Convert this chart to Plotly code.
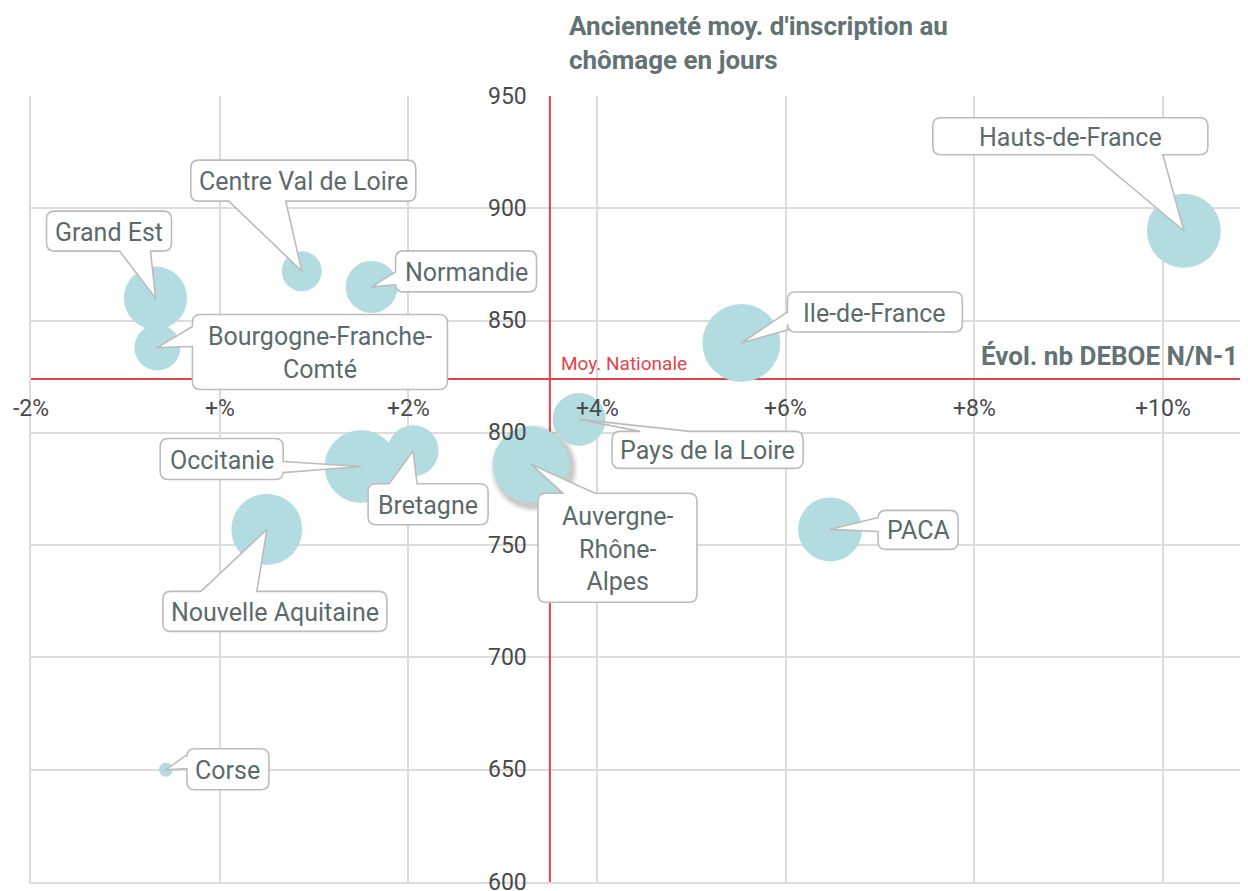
import plotly.graph_objects as go

# ---------------- data ----------------
regions = ["Hauts-de-France", "Ile-de-France", "Normandie", "Centre Val de Loire",
           "Grand Est", "Bourgogne-Franche-Comté", "Pays de la Loire", "Occitanie",
           "Bretagne", "Auvergne-Rhône-Alpes", "Nouvelle Aquitaine", "PACA", "Corse"]
label_text = ["Hauts-de-France", "Ile-de-France", "Normandie", "Centre Val de Loire",
              "Grand Est", "Bourgogne-Franche-<br>Comté", "Pays de la Loire", "Occitanie",
              "Bretagne", "Auvergne-<br>Rhône-<br>Alpes", "Nouvelle Aquitaine", "PACA", "Corse"]
evol_deboe = [10.22, 5.53, 1.61, 0.87, -0.68, -0.66, 3.81, 1.50, 2.05, 3.30, 0.50, 6.47, -0.57]
anciennete = [890, 840, 865, 872, 860, 838, 806, 785, 792, 786, 757, 757, 650]
bubble_size = [74, 78, 52, 40, 63, 46, 53, 73, 51, 76, 71, 64, 14]

nat_evol = 3.5     # moyenne nationale (axe vertical)
nat_anc = 824      # moyenne nationale (axe horizontal)

x_ticks = [-2, 0, 2, 4, 6, 8, 10]
x_tick_labels = ["-2%", "+%", "+2%", "+4%", "+6%", "+8%", "+10%"]
y_ticks = [600, 650, 700, 750, 800, 850, 900, 950]
y_tick_labels = ["600", "650", "700", "750", "800", "850", "900", "950"]

y_title = "Ancienneté moy. d'inscription au<br>chômage en jours"
x_title = "Évol. nb DEBOE N/N-1"
nat_label = "Moy. Nationale"

# ---------------- styles / layout of callouts (pixels, relative to bubble centre, screen coords) ----------------
# (left, right, top, bottom, pointer edge, pointer base a, pointer base b)
callouts = {
    "Hauts-de-France": (-251, 24, -113, -76, "bottom", -91, -21),
    "Ile-de-France": (46, 221, -51, -11, "left", -31, -13),
    "Normandie": (24, 165, -36, 5, "left", -15, -2),
    "Centre Val de Loire": (-111, 114, -111, -70, "bottom", -73, -16),
    "Grand Est": (-109, 16, -87, -47, "bottom", -36, -5),
    "Bourgogne-Franche-Comté": (35, 290, -33, 42, "left", -21, -1),
    "Pays de la Loire": (33, 224, 12, 49, "top", 61, 111),
    "Occitanie": (-201, -78, -28, 13, "right", -5, 6),
    "Bretagne": (-45, 75, 33, 74, "top", -24, 4),
    "Auvergne-Rhône-Alpes": (7, 166, 29, 138, "top", 32, 64),
    "Nouvelle Aquitaine": (-104, 120, 62, 102, "top", -66, -10),
    "PACA": (48, 128, -19, 20, "left", -12, 2),
    "Corse": (21, 103, -21, 20, "left", -15, -1),
}

BUBBLE = "#b2dcdf"
RED = "#e2434b"
GRID = "#dcdcdc"
TXT = "#5b6b6b"
TICK = "#4a4a4a"
BORDER = "#bcbcbc"
FONT = "Roboto"


def callout_path(L, R, T, B, edge, a, b, r=8):
    pts = []

    def P(cmd, *xy):
        coords = []
        for i in range(0, len(xy), 2):
            coords.append(f"{xy[i]:.1f},{-xy[i + 1]:.1f}")
        pts.append(cmd + " ".join(coords))

    P("M", L + r, T)
    if edge == "top":
        P("L", a, T); P("L", 0, 0); P("L", b, T)
    P("L", R - r, T)
    P("Q", R, T, R, T + r)
    if edge == "right":
        P("L", R, a); P("L", 0, 0); P("L", R, b)
    P("L", R, B - r)
    P("Q", R, B, R - r, B)
    if edge == "bottom":
        P("L", b, B); P("L", 0, 0); P("L", a, B)
    P("L", L + r, B)
    P("Q", L, B, L, B - r)
    if edge == "left":
        P("L", L, b); P("L", 0, 0); P("L", L, a)
    P("L", L, T + r)
    P("Q", L, T, L + r, T)
    return " ".join(pts) + " Z"


fig = go.Figure()

fig.add_trace(go.Scatter(
    x=evol_deboe, y=anciennete, mode="markers",
    marker=dict(size=bubble_size, sizemode="diameter", sizeref=1,
                color=BUBBLE, opacity=1, line=dict(width=0)),
    hovertext=regions, hoverinfo="text", showlegend=False,
))

shapes = []
annotations = []

# national average lines
shapes.append(dict(type="line", xref="x", yref="y", x0=x_ticks[0], x1=11.5, y0=nat_anc, y1=nat_anc,
                   line=dict(color=RED, width=2), layer="between"))
shapes.append(dict(type="line", xref="x", yref="y", x0=nat_evol, x1=nat_evol, y0=y_ticks[0], y1=y_ticks[-1],
                   line=dict(color=RED, width=2), layer="between"))

# soft shadow under the highlighted bubble (Auvergne-Rhône-Alpes)
i_ara = regions.index("Auvergne-Rhône-Alpes")
rad = bubble_size[i_ara] / 2
for k, alpha in [(6, 0.05), (4, 0.07), (2, 0.09)]:
    shapes.append(dict(type="circle", xref="x", yref="y", xsizemode="pixel", ysizemode="pixel",
                       xanchor=evol_deboe[i_ara], yanchor=anciennete[i_ara],
                       x0=3 - rad - k, x1=3 + rad + k, y0=-4 - rad - k, y1=-4 + rad + k,
                       fillcolor=f"rgba(0,0,0,{alpha})", line=dict(width=0), layer="between"))

# callouts
for i, reg in enumerate(regions):
    L, R, T, B, edge, a, b = callouts[reg]
    shapes.append(dict(type="path", xref="x", yref="y", xsizemode="pixel", ysizemode="pixel",
                       xanchor=evol_deboe[i], yanchor=anciennete[i],
                       path=callout_path(L, R, T, B, edge, a, b),
                       fillcolor="white", line=dict(color=BORDER, width=1.6), layer="above"))
    annotations.append(dict(x=evol_deboe[i], y=anciennete[i], xref="x", yref="y",
                            text=label_text[i], showarrow=False,
                            xanchor="center", yanchor="middle",
                            xshift=(L + R) / 2, yshift=-(T + B) / 2 - 1,
                            font=dict(family=FONT, size=25, color=TXT), align="center"))

# tick labels on the national-average axes
for v, t in zip(x_ticks, x_tick_labels):
    annotations.append(dict(x=v, y=nat_anc, xref="x", yref="y", text=t, showarrow=False,
                            xanchor="center", yanchor="middle", yshift=-30,
                            font=dict(family=FONT, size=23, color=TICK)))
for v, t in zip(y_ticks, y_tick_labels):
    annotations.append(dict(x=nat_evol, y=v, xref="x", yref="y", text=t, showarrow=False,
                            xanchor="right", yanchor="middle", xshift=-21,
                            font=dict(family=FONT, size=23, color=TICK)))

# titles
annotations.append(dict(x=nat_evol, y=1.068, xref="x", yref="paper", text=y_title, showarrow=False,
                        xanchor="left", yanchor="middle", xshift=17, align="left",
                        font=dict(family=FONT, size=26, color="#637272", weight="bold")))
annotations.append(dict(x=1.0, y=nat_anc, xref="paper", yref="y", text=x_title, showarrow=False,
                        xanchor="right", yanchor="middle", yshift=23, xshift=-8,
                        font=dict(family=FONT, size=26, color="#637272", weight="bold")))
annotations.append(dict(x=nat_evol, y=nat_anc, xref="x", yref="y", text=nat_label, showarrow=False,
                        xanchor="left", yanchor="middle", xshift=9, yshift=15,
                        font=dict(family=FONT, size=19, color=RED)))

# the page places the figure 8px from the top-left corner of the window
fig.update_layout(
    width=1240, height=883,
    margin=dict(l=23, r=0, t=88, b=9),
    paper_bgcolor="white", plot_bgcolor="white",
    xaxis=dict(range=[-2, 10.9], tickvals=x_ticks, showticklabels=False, showgrid=True,
               gridcolor=GRID, gridwidth=2, zeroline=False, showline=True, linecolor=GRID, linewidth=2,
               fixedrange=True),
    yaxis=dict(range=[600, 950], tickvals=y_ticks, showticklabels=False, showgrid=True,
               gridcolor=GRID, gridwidth=2, zeroline=False, showline=True, linecolor=GRID, linewidth=2,
               fixedrange=True),
    shapes=shapes, annotations=annotations,
    showlegend=False,
    font=dict(family=FONT),
)

fig.write_html("out.html")
